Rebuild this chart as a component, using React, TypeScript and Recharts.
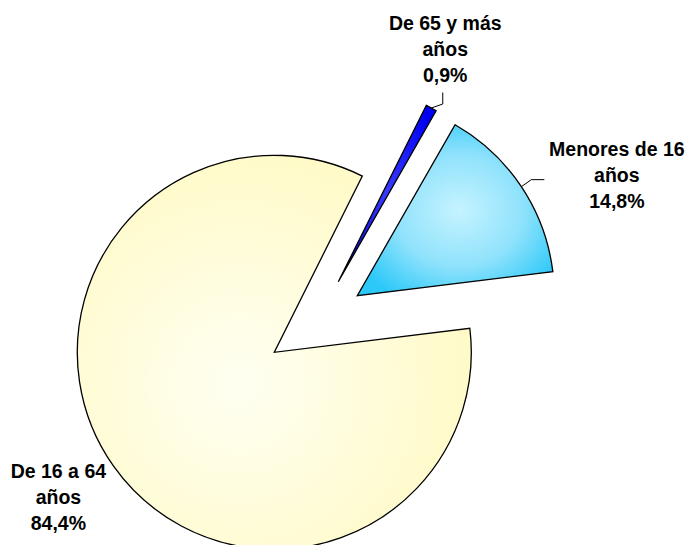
import React from "react";
import { PieChart, Pie, Cell } from "recharts";

// data
const categories = ["Menores de 16 años", "De 65 y más años", "De 16 a 64 años"];
const shares = [14.8, 0.9, 84.4];

const data = categories.map((name, i) => ({ name, value: shares[i] }));

const FILLS = ["url(#gradMenores)", "url(#gradMayores)", "url(#gradAdultos)"];

// layout: pie centre and explode offset of each slice, in pixels
const CENTRE = { x: 274.3, y: 352.3 };
const EXPLODE = [
  { dx: 83, dy: -56.6 },
  { dx: 64, dy: -70.6 },
  { dx: 0, dy: 0 },
];

// label block position relative to the arc point at the slice mid angle
const LABEL_POS = [
  { dx: 95.5, dy: -30.5, leader: [[10, -7], [23, -7]] },
  { dx: 14, dy: -78, leader: [[11.5, -4], [11.5, -15.5]] },
  { dx: -55, dy: 12, leader: [] as number[][] },
];

const FONT = "'Liberation Sans', Arial, Helvetica, sans-serif";
const LINE_H = 26;

const formatPct = (v: number) => `${v.toFixed(1).replace(".", ",")}%`;

const renderLabel = (featured: number) => (props: any) => {
  const { cx, cy, midAngle, outerRadius, index, value, payload } = props;
  if (index !== featured) return null;
  const rad = (midAngle * Math.PI) / 180;
  const x0 = cx + outerRadius * Math.cos(rad);
  const y0 = cy - outerRadius * Math.sin(rad);
  const pos = LABEL_POS[index];
  const name: string = payload?.name ?? props.name;
  const cut = name.lastIndexOf(" ");
  const lines = [name.slice(0, cut), name.slice(cut + 1), formatPct(value)];
  const pts = [[0, 0], ...pos.leader].map(([dx, dy]) => `${x0 + dx},${y0 + dy}`).join(" ");
  return (
    <g>
      {pos.leader.length > 0 && (
        <polyline points={pts} fill="none" stroke="#000" strokeWidth={1} />
      )}
      <text
        x={x0 + pos.dx}
        y={y0 + pos.dy}
        textAnchor="middle"
        fontFamily={FONT}
        fontWeight="bold"
        fontSize={19.5}
        fill="#000"
      >
        {lines.map((l, i) => (
          <tspan key={i} x={x0 + pos.dx} y={y0 + pos.dy + i * LINE_H}>
            {l}
          </tspan>
        ))}
      </text>
    </g>
  );
};

export default function App() {
  return (
    <div style={{ width: 687, height: 545, background: "#fff" }}>
      <style>{`body{margin:0}`}</style>
      <PieChart width={687} height={545} margin={{ top: 0, right: 0, bottom: 0, left: 0 }}>
        <defs>
          <radialGradient id="gradMenores" cx="0.52" cy="0.5" r="0.6">
            <stop offset="0" stopColor="#C6F3FF" />
            <stop offset="0.55" stopColor="#8FE2FC" />
            <stop offset="1" stopColor="#2CC8F8" />
          </radialGradient>
          <radialGradient id="gradMayores" cx="0.5" cy="0.5" r="0.6">
            <stop offset="0" stopColor="#3A3AFF" />
            <stop offset="1" stopColor="#0000F0" />
          </radialGradient>
          <radialGradient id="gradAdultos" cx="0.41" cy="0.58" r="0.62">
            <stop offset="0" stopColor="#FFFFF2" />
            <stop offset="1" stopColor="#FFFAC6" />
          </radialGradient>
        </defs>
        {EXPLODE.map((off, k) => (
          <Pie
            key={k}
            data={data}
            dataKey="value"
            nameKey="name"
            cx={CENTRE.x + off.dx}
            cy={CENTRE.y + off.dy}
            outerRadius={197}
            startAngle={7}
            endAngle={367}
            isAnimationActive={false}
            labelLine={false}
            label={renderLabel(k)}
          >
            {data.map((_, j) => (
              <Cell
                key={j}
                fill={j === k ? FILLS[j] : "none"}
                stroke={j === k ? "#000" : "none"}
                strokeWidth={1.3}
              />
            ))}
          </Pie>
        ))}
      </PieChart>
    </div>
  );
}
